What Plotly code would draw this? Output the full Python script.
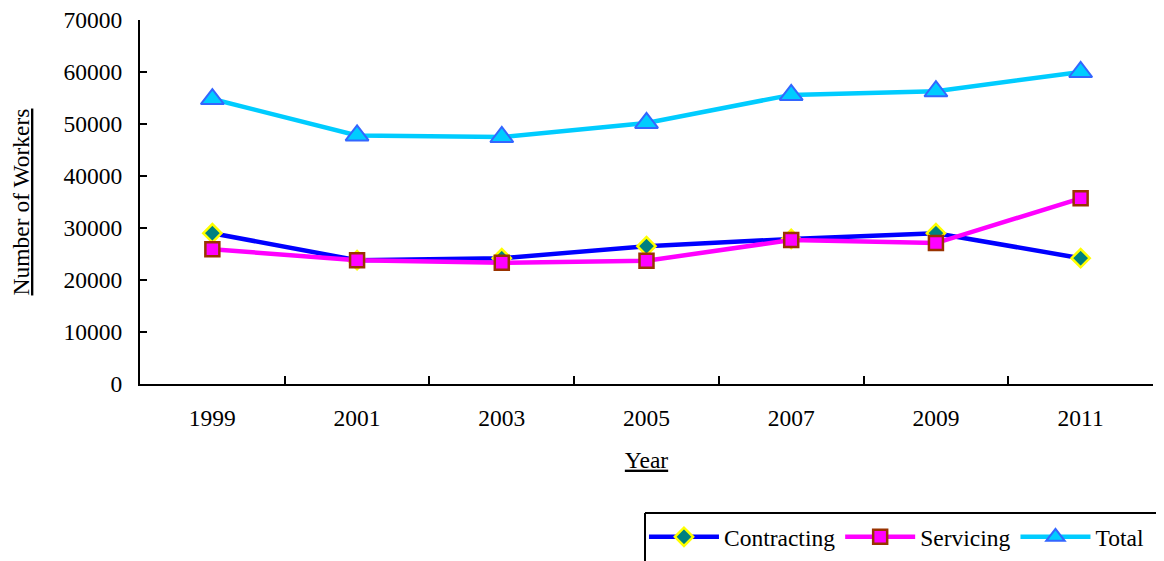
import plotly.graph_objects as go

years = ["1999", "2001", "2003", "2005", "2007", "2009", "2011"]
contracting = [29000, 23800, 24200, 26500, 27900, 29000, 24200]
servicing = [25900, 23800, 23300, 23700, 27700, 27100, 35700]
total = [54800, 47800, 47500, 50200, 55600, 56300, 60000]

FONT = "Liberation Serif, Times New Roman, serif"
FS = 23.5

fig = go.Figure()
fig.add_trace(go.Scatter(
    x=years, y=contracting, name="Contracting", mode="lines+markers",
    line=dict(color="#0000FF", width=4.5),
    marker=dict(symbol="diamond", size=14, color="#008080",
                line=dict(color="#FFFF00", width=2.5)),
))
fig.add_trace(go.Scatter(
    x=years, y=servicing, name="Servicing", mode="lines+markers",
    line=dict(color="#FF00FF", width=4.5),
    marker=dict(symbol="square", size=14, color="#FF00FF",
                line=dict(color="#993300", width=2.5)),
))
fig.add_trace(go.Scatter(
    x=years, y=total, name="Total", mode="lines+markers",
    line=dict(color="#00CCFF", width=4.5),
    marker=dict(symbol="triangle-up", size=20, color="#00CCFF",
                line=dict(color="#3366FF", width=2)),
))

# plot area target on screen: x 140..1153, y 20..384 (page has 8px body offset)
fig.update_layout(
    width=1164, height=561,
    margin=dict(l=132, r=19, t=12, b=185, autoexpand=False),
    paper_bgcolor="white", plot_bgcolor="white",
    font=dict(family=FONT, size=FS, color="black"),
    showlegend=True,
    legend=dict(
        orientation="h", x=0.4975, y=-0.36, xanchor="left", yanchor="top",
        bgcolor="rgba(0,0,0,0)", font=dict(family=FONT, size=FS),
        itemwidth=70, traceorder="normal",
    ),
)
fig.update_xaxes(
    type="category", categoryorder="array", categoryarray=years,
    range=[-0.5, 6.5], tickson="boundaries", ticks="inside", ticklen=8,
    tickwidth=2, tickcolor="black", showline=True, linecolor="black",
    linewidth=2, showgrid=False, zeroline=False, automargin=False,
    tickfont=dict(family=FONT, size=FS), ticklabelstandoff=12,
    ticklabeloverflow="allow",
    title=dict(text="<u>Year</u>", font=dict(family=FONT, size=FS), standoff=21),
)
fig.update_yaxes(
    range=[0, 70000], dtick=10000, tick0=0, tickformat="d",
    ticks="inside", ticklen=7, tickwidth=2, tickcolor="black",
    showline=True, linecolor="black", linewidth=2, showgrid=False,
    zeroline=False, automargin=False, tickfont=dict(family=FONT, size=FS),
    ticklabelstandoff=11, ticklabeloverflow="allow",
    title=dict(text="<u>Number of Workers</u>", font=dict(family=FONT, size=FS), standoff=30),
)

# legend frame (left and top edges visible, rest cropped by figure)
fig.add_shape(type="line", xref="paper", yref="paper",
              x0=0.4985, x1=0.4985, y0=-0.3544, y1=-0.55,
              line=dict(color="black", width=2))
fig.add_shape(type="line", xref="paper", yref="paper",
              x0=0.4985, x1=1.05, y0=-0.3544, y1=-0.3544,
              line=dict(color="black", width=2))

fig.write_html("out.html")
